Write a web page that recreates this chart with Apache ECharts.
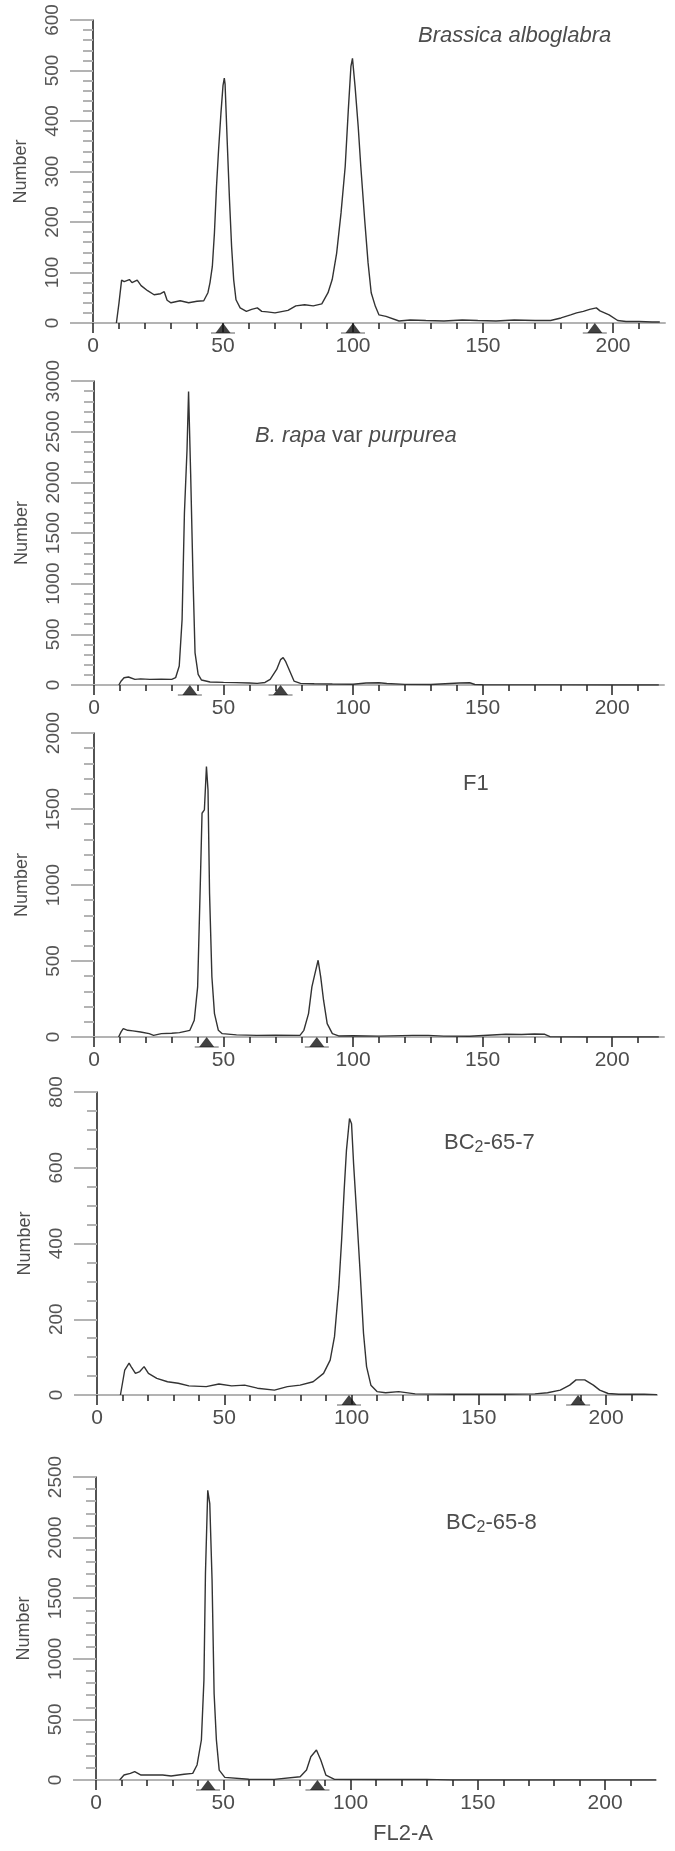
<!DOCTYPE html>
<html>
<head>
<meta charset="utf-8">
<title>FL2-A histograms</title>
<script src="https://cdn.jsdelivr.net/npm/echarts@6.0.0/dist/echarts.min.js"></script>
<style>
  html, body { margin: 0; padding: 0; background: #fff; }
  #chart { width: 675px; height: 1851px; }
</style>
</head>
<body>
<div id="chart"></div>
<script>
// histogram traces, [FL2-A channel, count]
const alboglabra = [[9,0],[10,40],[11,85],[12,82],[14,86],[15,80],[17,85],[18.5,74],[21,64],[23.5,56],[26,58],[27.4,62],[28.5,45],[30,40],[33.5,44],[36.8,40],[40,43],[42.6,44],[44.2,60],[45,80],[45.9,112],[46.7,178],[47.5,270],[48.3,343],[49.2,415],[50,470],[50.5,485],[50.8,473],[51.6,362],[52.5,244],[53.3,152],[54.1,86],[55,46],[56.6,30],[59,23],[61,27],[63.2,30],[64.9,23],[67,22],[70,20],[73,23],[75,25],[78,34],[81.4,36],[84.7,34],[88,38],[90.4,60],[92,86],[93.7,138],[95.4,218],[97,310],[98.2,422],[99.2,508],[99.8,524],[100.8,468],[102,389],[103,310],[104.5,204],[105.8,119],[107,60],[108.6,33],[110,16],[112.7,13],[117.7,4],[122,6],[128,5],[135,4],[142,6],[148,5],[155,4],[162,6],[170,5],[176,5],[180,10],[183.7,16],[186,20],[188.6,23],[191,27],[193.6,30],[195,24],[198.5,16],[201.8,5],[205,3],[210,3],[215,2],[218,2]];
const purpurea = [[9.6,0],[10.5,40],[11.6,72],[13.3,79],[15.8,56],[18,60],[21.6,56],[26,58],[30,56],[31.5,72],[32.9,187],[34,646],[34.9,1697],[35.9,2320],[36.5,2895],[37.3,2090],[38.2,1073],[39,318],[40.2,105],[41.5,49],[44.8,30],[50,26],[54.8,23],[60,20],[63,16],[66,25],[68,56],[70.5,154],[72,250],[73,270],[74,230],[75,171],[77.2,39],[79.7,16],[85,12],[92,10],[100,8],[105,20],[110,22],[113,15],[120,6],[130,5],[141,20],[145,22],[147,5],[150,2],[160,1],[180,1],[200,0],[218,0]];
const f1 = [[9.5,0],[10.5,35],[11.3,55],[13,44],[15,40],[18,33],[21.3,22],[23,11],[26,22],[30,25],[33,29],[37,44],[38.7,110],[40,330],[41,989],[41.7,1472],[42.6,1494],[43.4,1780],[44,1626],[44.6,945],[45.5,396],[46.5,154],[48,44],[49.5,22],[55,14],[62.8,11],[70,12],[79.5,11],[81,44],[82.8,154],[84.1,330],[85.3,418],[86.5,505],[87.5,396],[88.6,242],[90,88],[92,22],[94.4,7],[100,8],[110,6],[123,11],[129,11],[135,6],[145,5],[159,18],[165,16],[170,20],[174,18],[176,2],[190,0],[218,0]];
const bc657 = [[9.2,0],[10.9,66],[12.6,84],[13.4,75],[15.1,57],[16.8,62],[18.5,75],[20.2,57],[23.5,44],[27.7,35],[31.9,31],[36.1,24],[42.9,22],[47.9,29],[52.9,24],[58,26],[63,18],[69.7,13],[74.8,22],[79.8,26],[84.9,35],[89,57],[91.6,92],[93.3,154],[95,286],[96.1,409],[97.1,541],[98,646],[99.2,730],[100,716],[100.8,611],[102,479],[103.4,321],[104.7,163],[105.9,75],[107.6,26],[110,9],[113.4,6],[118.5,9],[125,3],[140,2],[160,2],[172,3],[177,6],[182,13],[185.7,26],[188.2,40],[191.6,40],[195,26],[197.5,13],[200.8,4],[205,2],[215,2],[220,1]];
const bc658 = [[9.3,0],[11,41],[13.5,55],[15.2,69],[17.7,41],[22,41],[26.2,41],[29.5,33],[34.6,47],[38,55],[39.7,124],[41.4,330],[42.4,824],[43,1703],[43.9,2390],[44.7,2280],[45.6,1648],[46.4,714],[47.3,330],[48.4,82],[50.6,22],[60,6],[70,5],[80.2,27],[82.7,82],[84.4,192],[86.6,247],[88.3,165],[90.3,41],[93.7,5],[110,4],[130,5],[134,3],[140,0],[220,0]];

// peak markers (triangles under the axis)
const alboglabraMarks = [50, 100, 193];
const purpureaMarks = [37, 72];
const f1Marks = [43.5, 86];
const bc657Marks = [99, 189];
const bc658Marks = [44, 87];

// axes
const xMajorTicks = [0, 50, 100, 150, 200];
const xMinorTicks = [0, 10, 20, 30, 40, 50, 60, 70, 80, 90, 100, 110, 120, 130, 140, 150, 160, 170, 180, 190, 200, 210];
const yMaxes = [600, 3000, 2000, 800, 2500];
const ySteps = [100, 500, 500, 200, 500];
const yMinorSplits = [5, 5, 5, 4, 5];
const sampleNames = [
  '{i|Brassica alboglabra}',
  '{i|B. rapa} var {i|purpurea}',
  'F1',
  'BC{s|2}-65-7',
  'BC{s|2}-65-8'
];

const traces = [alboglabra, purpurea, f1, bc657, bc658];
const marks = [alboglabraMarks, purpureaMarks, f1Marks, bc657Marks, bc658Marks];

// panel boxes in page pixels
const boxes = [
  { left: 93, top: 20, width: 572, height: 303 },
  { left: 94, top: 381, width: 570, height: 304 },
  { left: 94, top: 733, width: 570, height: 304 },
  { left: 97, top: 1092, width: 560, height: 303 },
  { left: 96, top: 1477, width: 560, height: 303 }
];
const namePos = [
  { left: 418, top: 23 },
  { left: 255, top: 423 },
  { left: 463, top: 771 },
  { left: 444, top: 1130 },
  { left: 446, top: 1510 }
];

const FONT = '"Liberation Sans", Arial, sans-serif';
const TEXT = '#4d4d4d';
const TICK_GREY = '#b3b3b3';

const chart = echarts.init(document.getElementById('chart'));

const grid = [], xAxis = [], yAxis = [], series = [], title = [];

boxes.forEach((b, i) => {
  grid.push({ left: b.left, top: b.top, width: b.width, height: b.height });

  // long ticks + labels every 50
  xAxis.push({
    gridIndex: i, type: 'value', min: 0, max: 220, position: 'bottom',
    axisLine: { show: true, lineStyle: { color: TICK_GREY, width: 2 } },
    axisTick: { show: true, customValues: xMajorTicks, length: 10, lineStyle: { color: '#222', width: 1.5 } },
    axisLabel: { customValues: xMajorTicks, margin: 13, fontSize: 21, color: TEXT, fontFamily: FONT },
    splitLine: { show: false }
  });
  // short ticks every 10
  xAxis.push({
    gridIndex: i, type: 'value', min: 0, max: 220, position: 'bottom',
    axisLine: { show: false },
    axisTick: { show: true, customValues: xMinorTicks, length: 6, lineStyle: { color: '#222', width: 1.5 } },
    axisLabel: { show: false },
    splitLine: { show: false }
  });

  yAxis.push({
    gridIndex: i, type: 'value', min: 0, max: yMaxes[i], interval: ySteps[i],
    name: 'Number', nameLocation: 'middle', nameGap: 63,
    nameTextStyle: { fontSize: 18, color: TEXT, fontFamily: FONT },
    axisLine: { show: true, lineStyle: { color: '#1a1a1a', width: 1.5 } },
    axisTick: { show: true, length: 23, lineStyle: { color: TICK_GREY, width: 2 } },
    minorTick: { show: true, splitNumber: yMinorSplits[i], length: 10, lineStyle: { color: TICK_GREY, width: 2 } },
    axisLabel: { rotate: 90, margin: 31, fontSize: 19, color: '#555', fontFamily: FONT, formatter: v => String(v) },
    splitLine: { show: false }
  });

  series.push({
    type: 'line', xAxisIndex: 2 * i, yAxisIndex: i,
    data: traces[i], showSymbol: false, silent: true, z: 3,
    lineStyle: { color: '#333', width: 1.4 }
  });
  series.push({
    type: 'scatter', xAxisIndex: 2 * i, yAxisIndex: i,
    data: marks[i].map(x => [x, 0]), symbol: 'rect', symbolSize: [24, 2],
    symbolOffset: [0, 10], itemStyle: { color: '#9a9a9a' }, clip: false, silent: true, z: 4
  });
  series.push({
    type: 'scatter', xAxisIndex: 2 * i, yAxisIndex: i,
    data: marks[i].map(x => [x, 0]), symbol: 'triangle', symbolSize: [15, 10],
    symbolOffset: [0, 5], itemStyle: { color: '#111' }, clip: false, silent: true, z: 5
  });

  title.push({
    text: sampleNames[i], left: namePos[i].left, top: namePos[i].top, padding: 0,
    textStyle: {
      fontSize: 22, fontWeight: 'normal', color: TEXT, fontFamily: FONT, lineHeight: 26,
      rich: {
        i: { fontSize: 22, fontStyle: 'italic', color: TEXT, fontFamily: FONT, lineHeight: 26 },
        s: { fontSize: 16, color: TEXT, fontFamily: FONT, lineHeight: 14, verticalAlign: 'bottom' }
      }
    }
  });
});

title.push({
  text: 'FL2-A', left: 373, top: 1823, padding: 0,
  textStyle: { fontSize: 22, fontWeight: 'normal', color: TEXT, fontFamily: FONT }
});

chart.setOption({
  animation: false,
  backgroundColor: '#fff',
  title, grid, xAxis, yAxis, series
});
</script>
</body>
</html>
